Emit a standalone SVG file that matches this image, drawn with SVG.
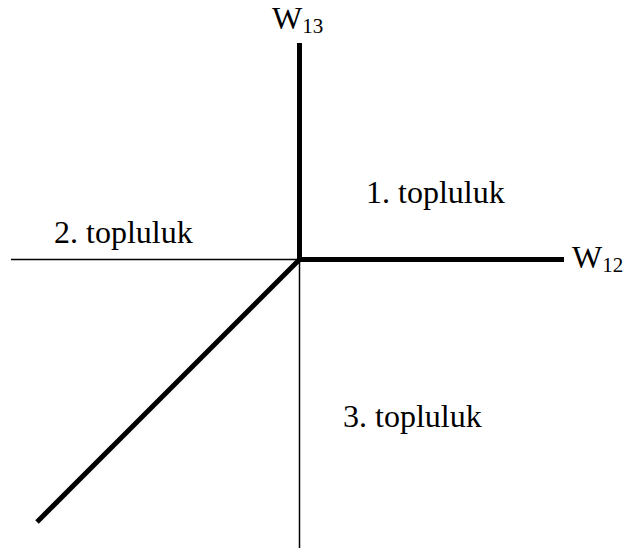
<svg xmlns="http://www.w3.org/2000/svg" width="629" height="554" viewBox="0 0 629 554">
<style>
text{font-family:"Liberation Serif","Times New Roman",serif;fill:#000}
.lbl{font-size:32px}
.sub{font-size:21px}
.thin{stroke:#000;stroke-width:1.5;fill:none}
.thick{stroke:#000;stroke-width:5;fill:none}
</style>
<rect width="629" height="554" fill="#fff"/>
<g id="connectors">
<line class="thin" x1="11" y1="259.5" x2="300" y2="259.5"/>
<line class="thin" x1="299.5" y1="259" x2="299.5" y2="548"/>
<line class="thick" x1="299.5" y1="43" x2="299.5" y2="262"/>
<line class="thick" x1="297" y1="259.5" x2="564" y2="259.5"/>
<line class="thick" x1="299.5" y1="259.5" x2="37" y2="522"/>
</g>
<g id="w13"><text class="lbl" font-family="Liberation Serif, serif" x="272" y="29">W<tspan class="sub" dy="4">13</tspan></text></g>
<g id="w12"><text class="lbl" font-family="Liberation Serif, serif" x="572" y="268">W<tspan class="sub" dy="4">12</tspan></text></g>
<g id="t1"><text class="lbl" font-family="Liberation Serif, serif" x="366" y="203">1. topluluk</text></g>
<g id="t2"><text class="lbl" font-family="Liberation Serif, serif" x="54" y="243">2. topluluk</text></g>
<g id="t3"><text class="lbl" font-family="Liberation Serif, serif" x="343" y="427">3. topluluk</text></g>
</svg>
